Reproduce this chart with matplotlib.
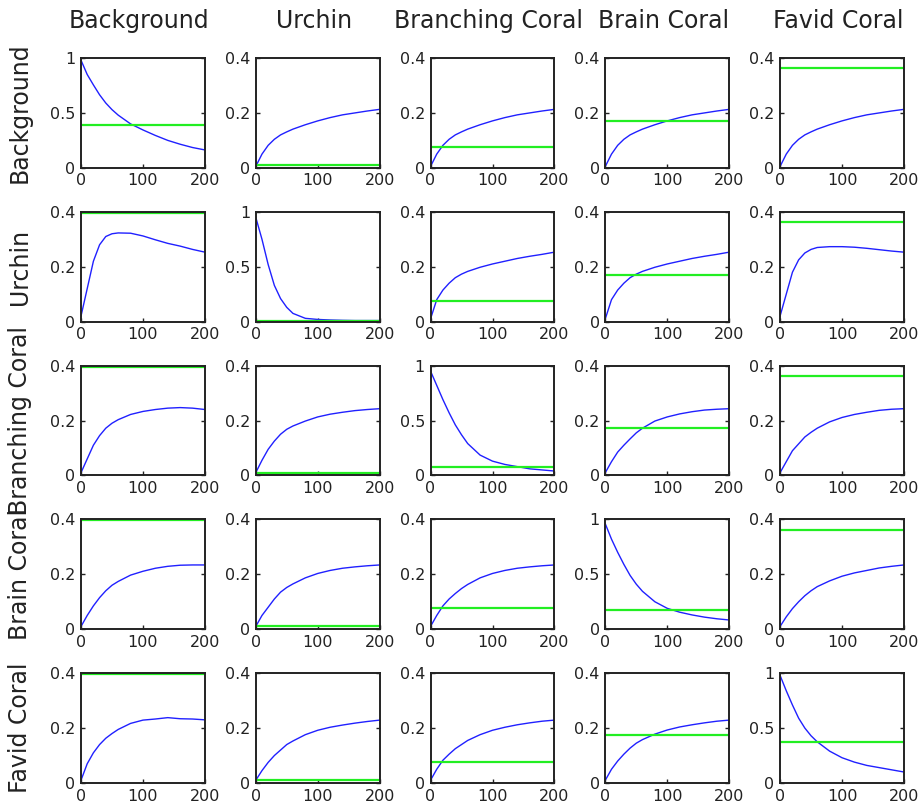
import matplotlib
matplotlib.use("Agg")
import matplotlib.pyplot as plt

plt.rcParams.update({
    'font.family': 'DejaVu Sans',
    'axes.linewidth': 1.4,
    'xtick.direction': 'in',
    'ytick.direction': 'in',
})

species = ["Background", "Urchin", "Branching Coral", "Brain Coral", "Favid Coral"]
t = [0, 10, 20, 30, 40, 50, 60, 80, 100, 120, 140, 160, 180, 200]

# row 1: Background
bg_bg = [0.98, 0.85, 0.755, 0.665, 0.59, 0.53, 0.48, 0.40, 0.345, 0.295, 0.25, 0.215, 0.185, 0.163]
bg_urchin = [0.005, 0.05, 0.082, 0.104, 0.12, 0.131, 0.141, 0.157, 0.171, 0.183, 0.193, 0.200, 0.207, 0.213]
bg_branch = [0.005, 0.05, 0.082, 0.104, 0.12, 0.131, 0.141, 0.157, 0.171, 0.183, 0.193, 0.200, 0.207, 0.213]
bg_brain = [0.005, 0.05, 0.082, 0.104, 0.12, 0.131, 0.141, 0.157, 0.171, 0.183, 0.193, 0.200, 0.207, 0.213]
bg_favid = [0.005, 0.05, 0.082, 0.104, 0.12, 0.131, 0.141, 0.157, 0.171, 0.183, 0.193, 0.200, 0.207, 0.213]

# row 2: Urchin
ur_bg = [0.02, 0.12, 0.22, 0.28, 0.31, 0.32, 0.323, 0.322, 0.312, 0.298, 0.285, 0.275, 0.263, 0.253]
ur_urchin = [0.95, 0.75, 0.52, 0.33, 0.21, 0.13, 0.075, 0.03, 0.02, 0.015, 0.012, 0.01, 0.01, 0.01]
ur_branch = [0.01, 0.08, 0.115, 0.14, 0.16, 0.173, 0.183, 0.198, 0.21, 0.22, 0.23, 0.238, 0.245, 0.253]
ur_brain = [0.01, 0.08, 0.115, 0.14, 0.16, 0.173, 0.183, 0.198, 0.21, 0.22, 0.23, 0.238, 0.245, 0.253]
ur_favid = [0.02, 0.10, 0.18, 0.225, 0.25, 0.263, 0.27, 0.273, 0.273, 0.271, 0.267, 0.262, 0.257, 0.253]

# row 3: Branching Coral
br_bg = [0.01, 0.06, 0.11, 0.145, 0.172, 0.19, 0.203, 0.222, 0.233, 0.24, 0.245, 0.247, 0.245, 0.24]
br_urchin = [0.01, 0.055, 0.095, 0.125, 0.15, 0.168, 0.18, 0.198, 0.213, 0.223, 0.23, 0.236, 0.24, 0.243]
br_branch = [0.95, 0.82, 0.69, 0.57, 0.46, 0.37, 0.29, 0.185, 0.13, 0.10, 0.08, 0.06, 0.05, 0.04]
br_brain = [0.01, 0.05, 0.085, 0.11, 0.133, 0.155, 0.172, 0.198, 0.213, 0.224, 0.232, 0.238, 0.241, 0.243]
br_favid = [0.01, 0.05, 0.09, 0.115, 0.14, 0.157, 0.172, 0.195, 0.211, 0.222, 0.23, 0.237, 0.241, 0.243]

# row 4: Brain Coral
bc_bg = [0.01, 0.05, 0.085, 0.115, 0.14, 0.16, 0.174, 0.197, 0.211, 0.222, 0.229, 0.233, 0.234, 0.234]
bc_urchin = [0.01, 0.05, 0.08, 0.11, 0.135, 0.152, 0.165, 0.187, 0.203, 0.214, 0.222, 0.227, 0.231, 0.234]
bc_branch = [0.01, 0.05, 0.085, 0.11, 0.13, 0.148, 0.163, 0.187, 0.203, 0.214, 0.222, 0.227, 0.231, 0.234]
bc_brain = [0.96, 0.82, 0.70, 0.59, 0.49, 0.41, 0.345, 0.25, 0.19, 0.155, 0.13, 0.11, 0.095, 0.084]
bc_favid = [0.01, 0.045, 0.075, 0.10, 0.122, 0.14, 0.155, 0.176, 0.193, 0.205, 0.214, 0.223, 0.229, 0.234]

# row 5: Favid Coral
fc_bg = [0.01, 0.07, 0.11, 0.14, 0.163, 0.18, 0.195, 0.217, 0.229, 0.233, 0.238, 0.234, 0.233, 0.23]
fc_urchin = [0.01, 0.045, 0.075, 0.10, 0.12, 0.14, 0.153, 0.176, 0.192, 0.203, 0.211, 0.218, 0.224, 0.229]
fc_branch = [0.01, 0.05, 0.083, 0.105, 0.125, 0.14, 0.155, 0.176, 0.192, 0.203, 0.212, 0.219, 0.225, 0.229]
fc_brain = [0.01, 0.05, 0.08, 0.105, 0.127, 0.145, 0.158, 0.178, 0.193, 0.204, 0.212, 0.219, 0.225, 0.229]
fc_favid = [0.98, 0.84, 0.71, 0.59, 0.50, 0.43, 0.375, 0.29, 0.23, 0.19, 0.16, 0.14, 0.12, 0.10]

# green reference levels, one per panel
lvl_bg = [0.39, 0.01, 0.076, 0.17, 0.363]
lvl_urchin = [0.396, 0.01, 0.075, 0.17, 0.364]
lvl_branch = [0.395, 0.01, 0.081, 0.172, 0.362]
lvl_brain = [0.396, 0.011, 0.076, 0.175, 0.363]
lvl_favid = [0.398, 0.01, 0.078, 0.176, 0.37]

curves = [
    [bg_bg, bg_urchin, bg_branch, bg_brain, bg_favid],
    [ur_bg, ur_urchin, ur_branch, ur_brain, ur_favid],
    [br_bg, br_urchin, br_branch, br_brain, br_favid],
    [bc_bg, bc_urchin, bc_branch, bc_brain, bc_favid],
    [fc_bg, fc_urchin, fc_branch, fc_brain, fc_favid],
]
levels = [lvl_bg, lvl_urchin, lvl_branch, lvl_brain, lvl_favid]

W, H = 918, 807
fig, axes = plt.subplots(5, 5, figsize=(W / 100, H / 100), dpi=100)
fig.subplots_adjust(left=81 / W, right=904 / W, top=1 - 58 / H, bottom=1 - 783 / H,
                    wspace=0.41, hspace=0.40)

for i in range(5):
    for j in range(5):
        ax = axes[i, j]
        ax.plot(t, curves[i][j], color='#2020ff', linewidth=1.0)
        ax.axhline(levels[i][j], color='#22ee22', linewidth=1.6)
        ax.set_xlim(0, 200)
        ax.set_xticks([0, 100, 200])
        if i == j:
            ax.set_ylim(0, 1)
            ax.set_yticks([0, 0.5, 1])
            ax.set_yticklabels(['0', '0.5', '1'])
        else:
            ax.set_ylim(0, 0.4)
            ax.set_yticks([0, 0.2, 0.4])
            ax.set_yticklabels(['0', '0.2', '0.4'])
        ax.tick_params(labelsize=11.5, length=3, width=1, pad=4, right=True, top=False,
                       colors='#222222', labelcolor='#222222')
        for s in ax.spines.values():
            s.set_color('#222222')

for j in range(5):
    pos = axes[0, j].get_position()
    fig.text((pos.x0 + pos.x1) / 2 - 4 / W, 1 - 21 / H, species[j],
             ha='center', va='center', fontsize=17, color='#222222')
for i in range(5):
    pos = axes[i, 0].get_position()
    fig.text(20 / W, (pos.y0 + pos.y1) / 2, species[i], rotation=90,
             ha='center', va='center', fontsize=17, color='#222222')

fig.savefig("out.png", dpi=100)
